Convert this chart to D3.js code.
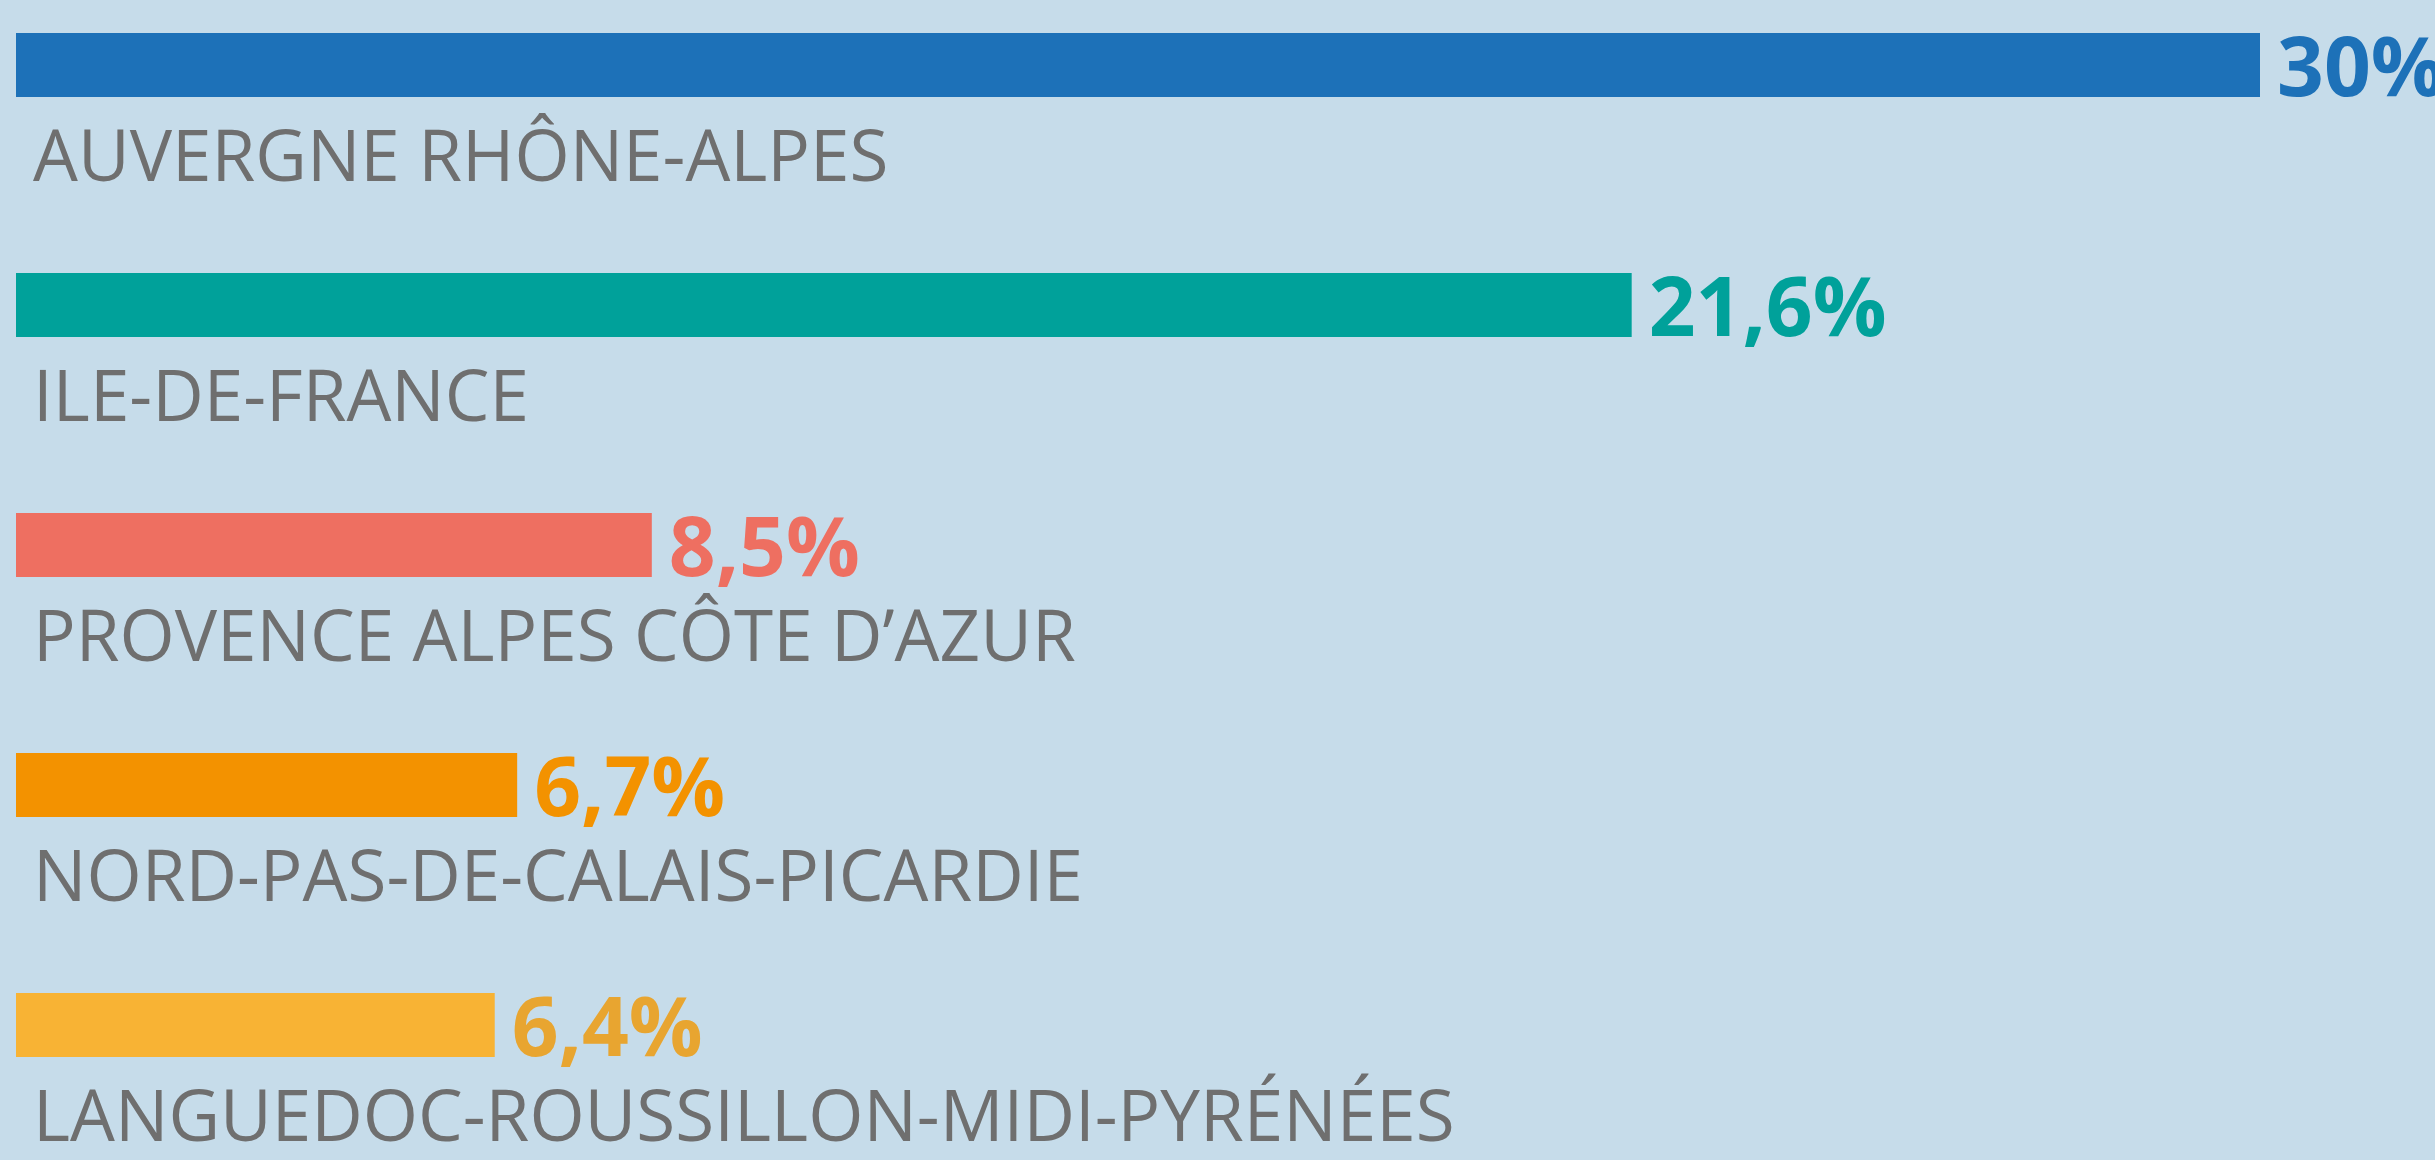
<!DOCTYPE html>
<html>
<head>
<meta charset="utf-8">
<script src="https://cdn.jsdelivr.net/npm/d3@7"></script>
<style>
  body { margin: 0; background: #c6dcea; }
  svg { display: block; }
</style>
</head>
<body>
<div id="chart"></div>
<script>
const regions = [
    'AUVERGNE RHÔNE-ALPES',
    'ILE-DE-FRANCE',
    'PROVENCE ALPES CÔTE D’AZUR',
    'NORD-PAS-DE-CALAIS-PICARDIE',
    'LANGUEDOC-ROUSSILLON-MIDI-PYRÉNÉES'
];
const shares = [30, 21.6, 8.5, 6.7, 6.4];
const barColors = ['#1d71b8', '#00a19a', '#ee6f61', '#f39200', '#f8b334'];
const labelColors = ['#1d71b8', '#00a19a', '#ee6f61', '#f39200', '#e8a530'];

function renderChart() {
    let width = 2435;
    let height = 1160;

    let data = regions.map((r, i) => ({
        name: r,
        value: shares[i],
        color: barColors[i],
        labelColor: labelColors[i]
    }));

    let fr = d3.formatLocale({ decimal: ',', thousands: ' ', grouping: [3], currency: ['', ' €'] });
    let fmt = fr.format('~');

    let x = d3
        .scaleLinear()
        .domain([0, d3.max(shares)])
        .range([16, 2260]);

    let y = d3
        .scaleBand()
        .domain(regions)
        .range([33, 33 + 240 * regions.length]);

    let barH = 64;

    const svg = d3.select('#chart')
        .append('svg')
        .attr('width', width)
        .attr('height', height);

    svg.append('rect')
        .attr('width', width)
        .attr('height', height)
        .attr('fill', '#c6dcea');

    let rows = svg.append('g')
        .selectAll('g')
        .data(data)
        .join('g')
        .attr('transform', d => `translate(0,${y(d.name)})`);

    rows.append('rect')
        .attr('x', x(0))
        .attr('y', 0)
        .attr('width', d => x(d.value) - x(0))
        .attr('height', barH)
        .attr('fill', d => d.color);

    // value labels, right of the bar
    rows.append('text')
        .attr('x', d => x(d.value) + 17)
        .attr('y', barH - 1)
        .attr('font-family', '"Open Sans", sans-serif')
        .attr('font-weight', 700)
        .attr('font-size', 82)
        .attr('fill', d => d.labelColor)
        .text(d => fmt(d.value) + '%');

    // region names under the bar
    rows.append('text')
        .attr('x', 33)
        .attr('y', barH + 84)
        .attr('font-family', '"Open Sans", sans-serif')
        .attr('font-weight', 400)
        .attr('font-size', 71)
        .attr('fill', '#6f6f6f')
        .text(d => d.name);
}

renderChart();
</script>
</body>
</html>
